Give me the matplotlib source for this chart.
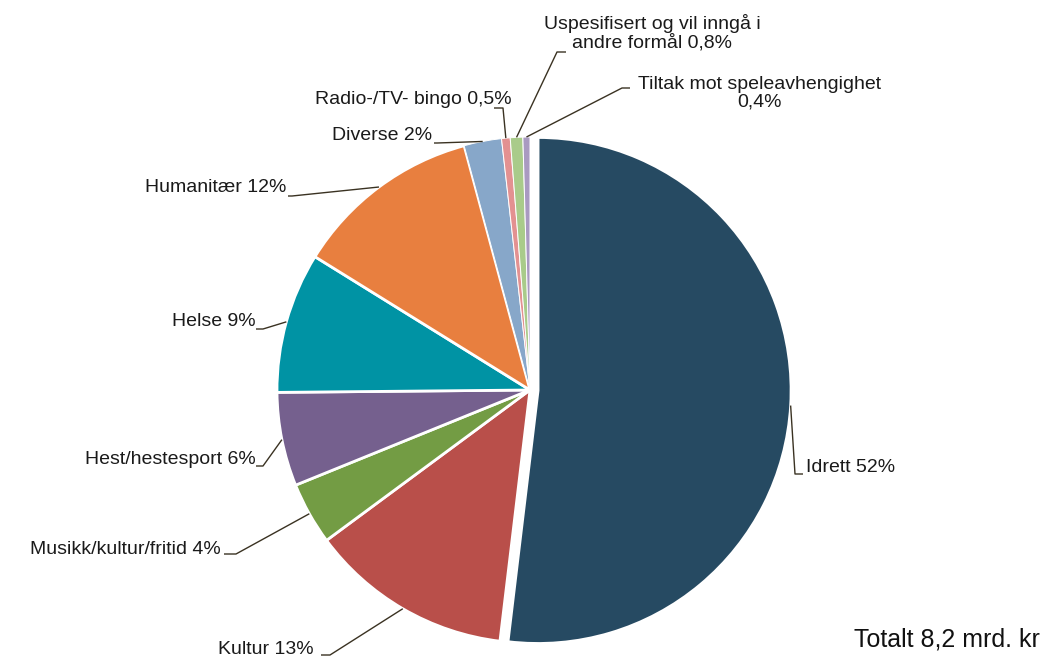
import numpy as np
import matplotlib.pyplot as plt

plt.rcParams['font.family'] = ['Liberation Sans', 'DejaVu Sans']

# Data
categories = ['Idrett', 'Kultur', 'Musikk/kultur/fritid', 'Hest/hestesport', 'Helse',
              'Humanitær', 'Diverse', 'Radio-/TV- bingo',
              'Uspesifisert og vil inngå i\nandre formål', 'Tiltak mot speleavhengighet\n']
shares = [52, 13, 4, 6, 9, 12, 2.4, 0.55, 0.8, 0.45]
share_labels = ['52%', '13%', '4%', '6%', '9%', '12%', '2%', '0,5%', '0,8%', '0,4%']
colors = ['#264a62', '#b94f4a', '#739c44', '#75608e', '#0093a4',
          '#e87f3f', '#87a7c9', '#e39191', '#a9cb8a', '#a99ac1']

W, H = 1046, 660
CX, CY, R = 530, 390, 253   # pie centre / radius in pixels (from top-left)


def px(x, y):
    # pixel (top-left origin) -> data coords
    return (x - CX) / R, (CY - y) / R


fig = plt.figure(figsize=(W / 100, H / 100), dpi=100)
ax = fig.add_axes([0, 0, 1, 1])

explode = [0.032] + [0] * (len(shares) - 1)
wedges, _ = ax.pie(shares, colors=colors, startangle=90, counterclock=False,
                   explode=explode, radius=1,
                   wedgeprops=dict(edgecolor='white', linewidth=2))
# thin separators between the tiny slices
for w in wedges[6:]:
    w.set_linewidth(0.7)

ax.set_xlim(-CX / R, (W - CX) / R)
ax.set_ylim(-(H - CY) / R, CY / R)
ax.set_aspect('equal')
ax.axis('off')

# label layout: (elbow px, end px, text px, ha)
layout = [
    ((795, 474), (803, 474), (806, 467), 'left'),
    ((330, 655), (321, 655), (314, 650), 'right'),
    ((236, 554), (224, 554), (221, 550), 'right'),
    ((263, 466), (256, 466), (256, 460), 'right'),
    ((263, 329), (256, 329), (256, 322), 'right'),
    ((292, 196), (288, 196), (286, 188), 'right'),
    ((437, 143), (434, 143), (432, 135), 'right'),
    ((503, 108), (494, 108), (512, 100), 'right'),
    ((557, 52), (566, 52), (652, 33), 'center'),
    ((622, 88), (630, 88), (760, 93), 'center'),
]

line_col = '#3a3222'
for w, cat, lab, (elb, end, tpos, ha) in zip(wedges, categories, share_labels, layout):
    mid = np.deg2rad((w.theta1 + w.theta2) / 2)
    cx, cy = w.center
    sx, sy = cx + w.r * np.cos(mid), cy + w.r * np.sin(mid)
    ex, ey = px(*elb)
    fx, fy = px(*end)
    ax.plot([sx, ex, fx], [sy, ey, fy], color=line_col, lw=1, solid_capstyle='butt')
    tx, ty = px(*tpos)
    if '\n' in cat:
        text = cat + lab if cat.endswith('\n') else cat + ' ' + lab
        ax.text(tx, ty, text, ha=ha, va='center', fontsize=14, color='#1a1a1a',
                multialignment='center', linespacing=1.05)
    else:
        ax.text(tx, ty, f'{cat} {lab}', ha=ha, va='center', fontsize=14,
                color='#1a1a1a')

ax.text(*px(1040, 639), 'Totalt 8,2 mrd. kr', ha='right', va='center',
        fontsize=18, color='#111111')

fig.savefig('out.png', dpi=100)
